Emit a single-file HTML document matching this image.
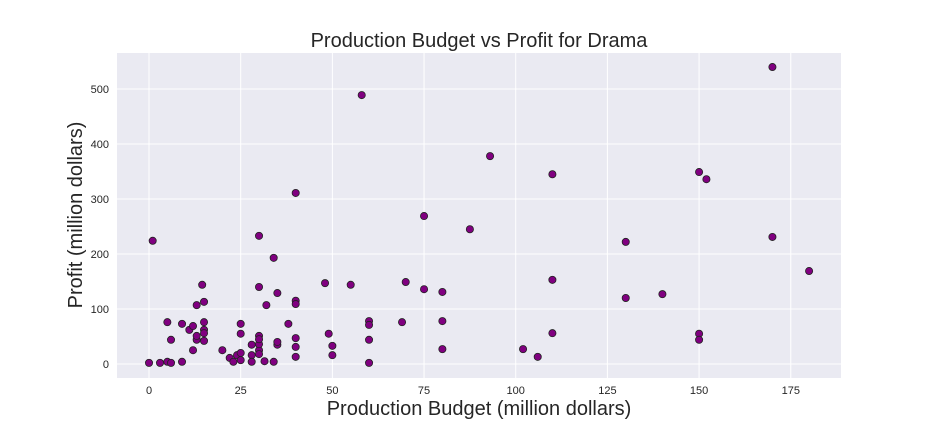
<!DOCTYPE html>
<html><head><meta charset="utf-8"><style>
body{margin:0;background:#fff;}
svg{display:block;font-family:"Liberation Sans",sans-serif;}
</style></head><body>
<svg id="chart" width="936" height="432">
<rect x="117" y="53" width="724" height="325" fill="#eaeaf2"/>
<g id="grid"></g>
<g id="xticks"></g>
<g id="yticks"></g>
<g id="points"></g>
<text x="479" y="47" text-anchor="middle" font-size="20" fill="#262626">Production Budget vs Profit for Drama</text>
<text x="479" y="415" text-anchor="middle" font-size="20" fill="#262626">Production Budget (million dollars)</text>
<text transform="translate(82,215) rotate(-90)" text-anchor="middle" font-size="20" fill="#262626">Profit (million dollars)</text>
</svg>
<script>
const budgets=[1,0,3,5,6,5,6,9,9,11,12,12,13,13,13,14.5,15,15,15,15,15,20,22,23,24,25,25,25,25,28,28,28,30,30,30,30,30,30,30,32,31.5,34,34,35,35,35,38,40,40,40,40,40,40,48,49,50,50,55,58,60,60,60,60,69,70,75,75,80,80,80,87.5,93,102,106,110,110,110,130,130,140,150,150,150,152,170,170,180];
const profits=[224,2,2,4,2,76,44,4,73,62,69,25,107,44,51,144,113,76,62,56,42,25,11,4,16,7,73,55,20,16,4,35,51,25,18,36,45,140,233,107,5,193,4,35,129,40,73,311,115,109,47,31,13,147,55,33,16,144,489,78,71,44,2,76,149,269,136,131,78,27,245,378,27,13,345,153,56,222,120,127,349,55,44,336,540,231,169];
const xTicks=[0,25,50,75,100,125,150,175];
const yTicks=[0,100,200,300,400,500];
const X0=117,X1=841,Y0=53,Y1=378,XMIN=-8.73,XMAX=188.7,YMIN=-25.5,YMAX=565.5;
const sx=v=>X0+(v-XMIN)/(XMAX-XMIN)*(X1-X0);
const sy=v=>Y1-(v-YMIN)/(YMAX-YMIN)*(Y1-Y0);
const NS="http://www.w3.org/2000/svg";
const grid=document.getElementById('grid'),xt=document.getElementById('xticks'),yt=document.getElementById('yticks'),pts=document.getElementById('points');
xTicks.forEach(t=>{
  const l=document.createElementNS(NS,'line');
  l.setAttribute('x1',sx(t));l.setAttribute('x2',sx(t));l.setAttribute('y1',Y0);l.setAttribute('y2',Y1);
  l.setAttribute('stroke','#fff');l.setAttribute('stroke-width','1');
  
  
  grid.appendChild(l);
  const tx=document.createElementNS(NS,'text');
  tx.setAttribute('x',sx(t));tx.setAttribute('y',Y1+16);tx.setAttribute('text-anchor','middle');
  tx.setAttribute('font-size','11');tx.setAttribute('fill','#262626');tx.textContent=t;
  
  
  xt.appendChild(tx);
});
yTicks.forEach(t=>{
  const l=document.createElementNS(NS,'line');
  l.setAttribute('x1',X0);l.setAttribute('x2',X1);l.setAttribute('y1',sy(t));l.setAttribute('y2',sy(t));
  l.setAttribute('stroke','#fff');l.setAttribute('stroke-width','1');
  
  
  grid.appendChild(l);
  const tx=document.createElementNS(NS,'text');
  tx.setAttribute('x',X0-8);tx.setAttribute('y',sy(t)+4);tx.setAttribute('text-anchor','end');
  tx.setAttribute('font-size','11');tx.setAttribute('fill','#262626');tx.textContent=t;
  
  
  yt.appendChild(tx);
});
budgets.forEach((b,i)=>{
  const c=document.createElementNS(NS,'circle');
  c.setAttribute('cx',sx(b));c.setAttribute('cy',sy(profits[i]));c.setAttribute('r','3.6');
  c.setAttribute('fill','#800080');c.setAttribute('stroke','#222');c.setAttribute('stroke-width','0.8');
  
  
  pts.appendChild(c);
});
</script>
</body></html>
